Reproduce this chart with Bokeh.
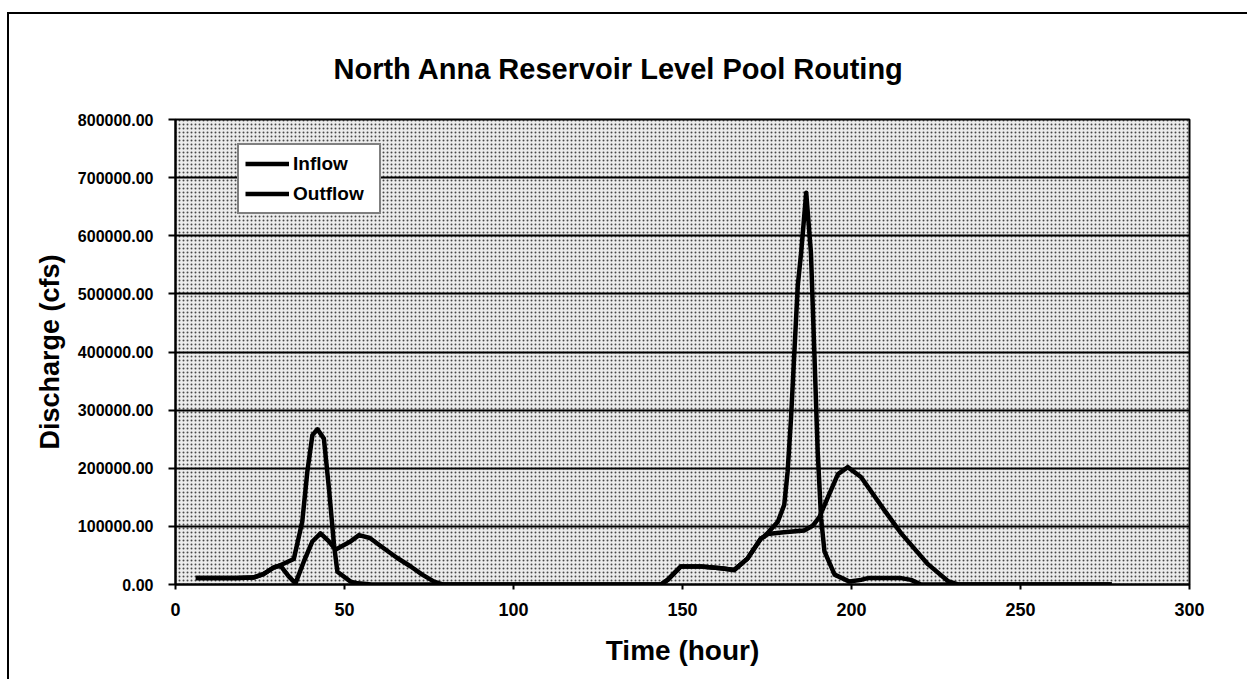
from bokeh.plotting import figure
from bokeh.models import (ColumnDataSource, NumeralTickFormatter, FixedTicker,
                          Range1d, BoxAnnotation, Legend, LegendItem)
from bokeh.embed import file_html
from bokeh.resources import INLINE

# Hydrographs for level pool routing (time in hours, discharge in cfs)
inflow_hours = [6, 12, 18, 23, 26, 29, 31, 35, 37.5, 39, 40.5, 42, 43.9, 45.4,
                46.9, 47.9, 51.8, 54, 58, 143.6, 145.6, 149.5, 155.5, 161.4,
                165.3, 169.3, 173.2, 174.2, 178.2, 180.1, 181.1, 182.1, 183.1,
                184.1, 185.1, 186.6, 188, 189, 190, 191, 192, 195, 199.4,
                202.8, 204.8, 214.7, 217.6, 220.6, 277]
inflow_cfs = [11000, 11000, 11000, 12000, 18000, 29000, 33000, 44000, 108000,
              194000, 257000, 267000, 251000, 165000, 68000, 22000, 5000,
              2000, 0, 0, 8000, 31000, 31000, 28000, 25000, 45000, 79000,
              82000, 108000, 137000, 194000, 285000, 400000, 514000, 571000,
              674000, 571000, 400000, 228000, 114000, 57000, 17000, 5000,
              8000, 11000, 11000, 8000, 0, 0]

outflow_hours = [6, 12, 18, 23, 26, 29, 31, 33.5, 35.5, 38, 40.5, 42.9, 45.4,
                 47.4, 48.9, 51.5, 54.3, 57.5, 61.7, 65.5, 69.6, 73, 76.5, 79,
                 143.6, 145.6, 149.5, 155.5, 161.4, 165.3, 169.3, 173.2,
                 175.2, 180, 186, 188.5, 190.5, 193, 196, 198.9, 202.8,
                 209.7, 214.7, 222.6, 228.5, 231.5, 277]
outflow_cfs = [11000, 11000, 11000, 12000, 18000, 29000, 33000, 14000, 2000,
               40000, 74000, 88000, 74000, 60000, 65000, 73000, 85000, 80000,
               62000, 46000, 31000, 17000, 5000, 0, 0, 8000, 31000, 31000,
               28000, 25000, 45000, 79000, 87000, 90000, 93000, 101000,
               116000, 150000, 190000, 202000, 185000, 128000, 88000, 35000,
               6000, 0, 0]

x_ticks = [0, 50, 100, 150, 200, 250, 300]
y_ticks = [0, 100000, 200000, 300000, 400000, 500000, 600000, 700000, 800000]

FONT = "Liberation Sans"

p = figure(width=1240, height=667, output_backend="svg", toolbar_location=None,
           x_range=Range1d(0, 300), y_range=Range1d(0, 800000),
           min_border_left=166, min_border_right=60, min_border_top=105,
           min_border_bottom=97, margin=(12, 0, 0, 7))
p.styles = {"border-left": "2px solid black", "border-top": "2px solid black"}

p.background_fill_color = "#ececec"
p.border_fill_color = "white"
p.outline_line_color = "black"
p.outline_line_width = 2

# speckled plot-area fill
p.add_layout(BoxAnnotation(fill_alpha=0, line_alpha=0, hatch_pattern="dot",
                           hatch_color="#111111", hatch_scale=4,
                           hatch_weight=1.5, hatch_alpha=0.75, level="image"))

p.title.text = "North Anna Reservoir Level Pool Routing"
p.title.text_font = FONT
p.title.text_font_style = "bold"
p.title.text_font_size = "29px"
p.title.text_color = "black"
p.title.align = "left"
p.title.offset = 158
p.title.standoff = 70

p.xgrid.visible = False
p.ygrid.grid_line_color = "black"
p.ygrid.grid_line_width = 2

for ax in (p.xaxis[0], p.yaxis[0]):
    ax.axis_line_color = "black"
    ax.axis_line_width = 2
    ax.major_tick_line_color = "black"
    ax.major_tick_line_width = 2
    ax.major_tick_in = 0
    ax.minor_tick_line_color = None
    ax.major_label_text_font = FONT
    ax.major_label_text_font_style = "bold"
    ax.axis_label_text_font = FONT
    ax.axis_label_text_font_style = "bold"
    ax.axis_label_text_color = "black"
    ax.major_label_text_color = "black"

p.xaxis.ticker = FixedTicker(ticks=x_ticks)
p.xaxis.major_tick_out = 5
p.xaxis.major_label_text_font_size = "18px"
p.xaxis.major_label_standoff = 13
p.xaxis.axis_label = "Time (hour)"
p.xaxis.axis_label_text_font_size = "28px"
p.xaxis.axis_label_standoff = 16

p.yaxis.ticker = FixedTicker(ticks=y_ticks)
p.yaxis.formatter = NumeralTickFormatter(format="0.00")
p.yaxis.major_tick_out = 7
p.yaxis.major_label_text_font_size = "16px"
p.yaxis.major_label_standoff = 15
p.yaxis.axis_label = "Discharge (cfs)"
p.yaxis.axis_label_text_font_size = "27px"
p.yaxis.axis_label_standoff = 10

src_in = ColumnDataSource(dict(t=inflow_hours, q=inflow_cfs))
src_out = ColumnDataSource(dict(t=outflow_hours, q=outflow_cfs))
r_in = p.line("t", "q", source=src_in, line_color="black", line_width=4.5,
              line_join="round")
r_out = p.line("t", "q", source=src_out, line_color="black", line_width=4.5,
               line_join="round")

legend = Legend(items=[LegendItem(label="Inflow", renderers=[r_in]),
                       LegendItem(label="Outflow", renderers=[r_out])],
                location=(62, 370), orientation="vertical")
legend.margin = 0
legend.padding = 6
legend.spacing = 5
legend.glyph_width = 44
legend.glyph_height = 25
legend.label_height = 25
legend.label_width = 80
legend.label_standoff = 4
legend.label_text_font = FONT
legend.label_text_font_style = "bold"
legend.label_text_font_size = "19px"
legend.label_text_color = "black"
legend.border_line_color = "black"
legend.border_line_width = 2
legend.background_fill_color = "white"
legend.background_fill_alpha = 1
p.add_layout(legend, "center")

open("out.html", "w").write(file_html(p, INLINE))
